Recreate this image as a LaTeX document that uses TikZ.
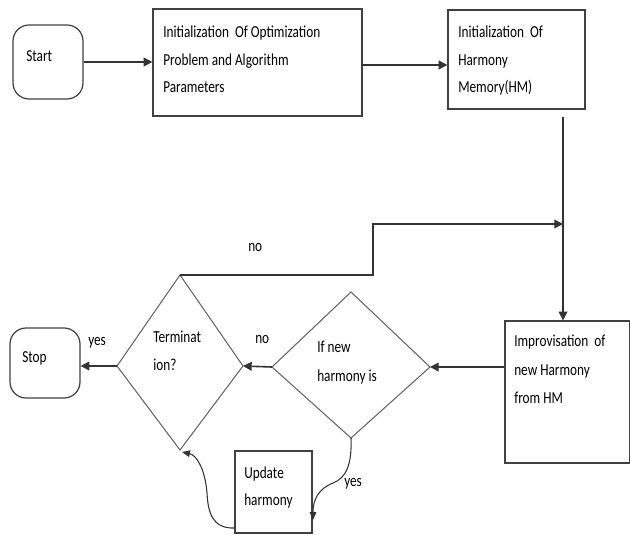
\documentclass[tikz,border=0pt]{standalone}
\usepackage{fontspec}
\setmainfont{Carlito}[FakeStretch=0.79]
\usetikzlibrary{arrows.meta}
\tikzset{
  boxline/.style={draw=black!75, line width=0.9pt},
  termbox/.style={boxline, rounded corners=12pt, inner sep=0pt},
  procbox/.style={boxline, inner sep=0pt},
  decline/.style={draw=black!60, line width=0.8pt},
  conn/.style={draw=black!80, line width=1.2pt, -{Triangle[length=6.5pt,width=6.5pt]}},
  curveconn/.style={draw=black!80, line width=0.8pt, -{Triangle[length=6pt,width=5pt]}},
  txt/.style={anchor=base west, inner sep=0pt, font=\fontsize{12.6pt}{14pt}\selectfont, text=black},
}
\begin{document}
\begin{tikzpicture}[x=0.75pt,y=-0.75pt]
\useasboundingbox (0,0) rectangle (630,534);
% boxes
\node[termbox, minimum width=70*0.75pt, minimum height=74*0.75pt] (start) at (48,62) {};
\node[procbox, minimum width=209*0.75pt, minimum height=107*0.75pt] (box1) at (257.5,62.5) {};
\node[procbox, minimum width=137*0.75pt, minimum height=99*0.75pt] (box2) at (516.5,59.5) {};
\node[procbox, minimum width=124.5*0.75pt, minimum height=142*0.75pt] (impr) at (567.25,392) {};
\node[procbox, minimum width=77*0.75pt, minimum height=82*0.75pt] (upd) at (273.5,492) {};
\node[termbox, minimum width=70*0.75pt, minimum height=70*0.75pt] (stop) at (45,363) {};
% diamonds
\coordinate (d1n) at (180,275); \coordinate (d1e) at (243,366);
\coordinate (d1s) at (180,450); \coordinate (d1w) at (117,366);
\coordinate (d2n) at (351,292); \coordinate (d2e) at (430,367);
\coordinate (d2s) at (351,438); \coordinate (d2w) at (272,367);
\draw[decline] (d1n) -- (d1e) -- (d1s) -- (d1w) -- cycle;
\draw[decline] (d2n) -- (d2e) -- (d2s) -- (d2w) -- cycle;
% texts
\node[txt] (tstart) at (26,62) {Start};
\node[txt] (t1a) at (163,38) {Initialization\ \ Of Optimization};
\node[txt] (t1b) at (163,65.5) {Problem and Algorithm};
\node[txt] (t1c) at (163,93) {Parameters};
\node[txt] (t2a) at (458,38) {Initialization\ \ Of};
\node[txt] (t2b) at (458,65.5) {Harmony};
\node[txt] (t2c) at (458,93) {Memory(HM)};
\node[txt] (t3a) at (514,346) {Improvisation\ \ of};
\node[txt] (t3b) at (514,375) {new Harmony};
\node[txt] (t3c) at (514,403) {from HM};
\node[txt] (t4a) at (317,352) {If new};
\node[txt] (t4b) at (317,381) {harmony is};
\node[txt] (t5a) at (153,342) {Terminat};
\node[txt] (t5b) at (153,370) {ion?};
\node[txt] (t6a) at (244,478) {Update};
\node[txt] (t6b) at (244,505) {harmony};
\node[txt] (tstop) at (22,362) {Stop};
\node[txt] (lyes1) at (88,345) {yes};
\node[txt] (lno1) at (255,343) {no};
\node[txt] (lno2) at (248,252) {no};
\node[txt] (lyes2) at (344,486) {yes};
% connectors
\draw[conn] (start.east) -- (start.east -| box1.west);
\coordinate (b1e) at (362,65);
\draw[conn] (b1e) -- (b1e -| box2.west);
\coordinate (c1) at (563,117);
\draw[conn, line width=0.9pt] (c1) -- (c1 |- impr.north);
\draw[conn] (impr.west |- d2e) -- (d2e);
\draw[conn] (d2w) -- (d1e);
\draw[conn] (d1w) -- (d1w -| stop.east);
\coordinate (k1) at (373,275); \coordinate (k2) at (373,224); \coordinate (k3) at (563,224);
\draw[conn] (d1n) -- (k1) -- (k2) -- (k3);
\coordinate (u1) at (313,520);
\draw[curveconn] (d2s) .. controls (352,465) and (346,478) .. (333,483) .. controls (318,489) and (313,500) .. (u1);
\coordinate (u2) at (235,528);
\draw[curveconn] (u2) .. controls (212,529) and (208,512) .. (207,493) .. controls (205,468) and (196,455) .. (182,452);
\end{tikzpicture}
\end{document}
